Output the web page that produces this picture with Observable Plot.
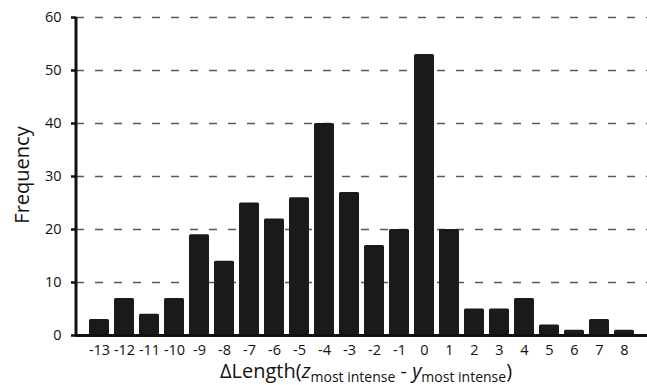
<!DOCTYPE html>
<html>
<head>
<meta charset="utf-8">
<script src="https://cdn.jsdelivr.net/npm/d3@7"></script>
<script src="https://cdn.jsdelivr.net/npm/@observablehq/plot@0.6"></script>
<style>
  body { margin: 0; background: #fff; }
</style>
</head>
<body>
<div id="chart"></div>
<script>
const categories = ["-13","-12","-11","-10","-9","-8","-7","-6","-5","-4","-3","-2","-1","0","1","2","3","4","5","6","7","8"];
const frequency = [3,7,4,7,19,14,25,22,26,40,27,17,20,53,20,5,5,7,2,1,3,1];
const yTicks = [0,10,20,30,40,50,60];
const yLabel = "Frequency";
const xLabelMain = "ΔLength(";
const xLabelZ = "z";
const xLabelY = "y";
const xLabelSub = "most intense";

const data = categories.map((c, i) => ({cat: c, freq: frequency[i]}));

const plot = Plot.plot({
  width: 647,
  height: 385,
  marginTop: 17,
  marginBottom: 50,
  marginLeft: 76,
  marginRight: 0,
  style: {fontFamily: "'Open Sans', sans-serif", fontSize: "14px", color: "#111", background: "white"},
  x: {domain: categories, paddingInner: 0.2, paddingOuter: 0.1, label: null},
  y: {domain: [0, 60], label: null},
  marks: [
    Plot.ruleY(yTicks.slice(1), {stroke: "#5a5a5a", strokeDasharray: "8,11", strokeWidth: 1.5}),
    Plot.barY(data, {x: "cat", y: "freq", fill: "#1a1a1a", rx: 1.5}),
    Plot.ruleY([0], {stroke: "#111", strokeWidth: 3}),
    Plot.axisY({ticks: yTicks, tickSize: 5, tickPadding: 10, strokeWidth: 2.5, stroke: "#111", label: null, fontSize: 14.5}),
    Plot.axisX({tickSize: 0, tickPadding: 9, label: null, fontSize: 14.5})
  ]
});

const svg = d3.select(plot);
const y = plot.scale("y");
svg.append("line")
  .attr("x1", 76).attr("x2", 76)
  .attr("y1", y.apply(60)).attr("y2", y.apply(0) + 1.5)
  .attr("stroke", "#111").attr("stroke-width", 3);

svg.append("text")
  .attr("transform", "translate(29,175) rotate(-90)")
  .attr("text-anchor", "middle")
  .attr("font-size", 20)
  .attr("fill", "#111")
  .text(yLabel);

const xl = svg.append("text")
  .attr("x", 366).attr("y", 378)
  .attr("text-anchor", "middle")
  .attr("font-size", 20)
  .attr("fill", "#111");
xl.append("tspan").text(xLabelMain);
xl.append("tspan").attr("font-style", "italic").text(xLabelZ);
xl.append("tspan").attr("font-size", 14).attr("dy", 4).text(xLabelSub);
xl.append("tspan").attr("dy", -4).text(" - ");
xl.append("tspan").attr("font-style", "italic").text(xLabelY);
xl.append("tspan").attr("font-size", 14).attr("dy", 4).text(xLabelSub);
xl.append("tspan").attr("dy", -4).text(")");

document.getElementById("chart").appendChild(plot);
</script>
</body>
</html>
